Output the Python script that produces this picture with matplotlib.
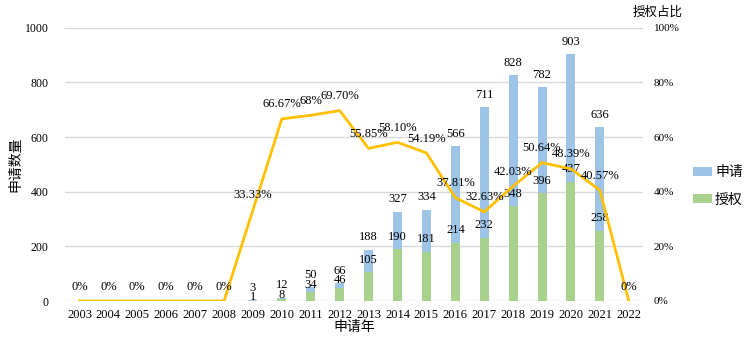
import numpy as np
import matplotlib.pyplot as plt

plt.rcParams['font.family'] = ['Liberation Serif', 'Noto Sans CJK SC']

years = [str(y) for y in range(2003, 2023)]
apply_cnt = [0, 0, 0, 0, 0, 0, 3, 12, 50, 66, 188, 327, 334, 566, 711, 828, 782, 903, 636, 0]
grant_cnt = [0, 0, 0, 0, 0, 0, 1, 8, 34, 46, 105, 190, 181, 214, 232, 348, 396, 437, 258, 0]
grant_pct = [0, 0, 0, 0, 0, 0, 33.33, 66.67, 68, 69.70, 55.85, 58.10, 54.19, 37.81,
             32.63, 42.03, 50.64, 48.39, 40.57, 0]
pct_labels = ['0%', '0%', '0%', '0%', '0%', '0%', '33.33%', '66.67%', '68%', '69.70%',
              '55.85%', '58.10%', '54.19%', '37.81%', '32.63%', '42.03%', '50.64%',
              '48.39%', '40.57%', '0%']

blue = '#9DC3E6'
green = '#A9D18E'
orange = '#FFC000'

fig = plt.figure(figsize=(7.49, 3.44), dpi=100)
ax = fig.add_axes([0.0868, 0.125, 0.772, 0.794])
x = np.arange(len(years))
w = 0.31

ax.bar(x, apply_cnt, w, color=blue, label='申请', zorder=2)
ax.bar(x, grant_cnt, w, color=green, label='授权', zorder=3)

# value labels; the green one is pushed down when the two bars are close
for i in range(len(years)):
    if apply_cnt[i] > 0:
        ya = apply_cnt[i] + 45
        yg = max(min(grant_cnt[i] + 45, ya - 35), 15)
        ax.text(x[i], ya, str(apply_cnt[i]), ha='center', va='center', fontsize=9, zorder=6)
        ax.text(x[i], yg, str(grant_cnt[i]), ha='center', va='center', fontsize=9, zorder=6)

ax.set_xlim(-0.5, len(years) - 0.5)
ax.set_ylim(0, 1000)
ax.set_yticks(range(0, 1001, 200))
ax.set_xticks(x)
ax.set_xticklabels(years)
ax.tick_params(axis='both', length=0, labelsize=8.5)
ax.tick_params(axis='y', pad=12)
ax.tick_params(axis='x', pad=6, labelsize=9)
ax.grid(axis='y', color='#D9D9D9', linewidth=1, zorder=0)
ax.set_axisbelow(True)
for s in ax.spines.values():
    s.set_visible(False)
ax.set_ylabel('申请数量', fontsize=10)
ax.yaxis.set_label_coords(-0.074, 0.5)
ax.set_xlabel('申请年', fontsize=10, labelpad=0)

ax2 = ax.twinx()
ax2.plot(x, grant_pct, color=orange, linewidth=2, zorder=5)
ax2.set_ylim(0, 100)
ax2.set_yticks(range(0, 101, 20))
ax2.set_yticklabels([f'{v}%' for v in range(0, 101, 20)])
ax2.tick_params(axis='y', length=0, labelsize=8, pad=7.5)
for s in ax2.spines.values():
    s.set_visible(False)
for i in range(len(years)):
    ax2.text(x[i], grant_pct[i] + 5.3, pct_labels[i], ha='center', va='center',
             fontsize=9, zorder=7)

fig.text(0.8785, 0.962, '授权占比', fontsize=9, ha='center', va='center')

handles, labels = ax.get_legend_handles_labels()
fig.legend(handles, labels, loc='center left', bbox_to_anchor=(0.925, 0.458),
           frameon=False, fontsize=10, handlelength=1.4, handleheight=0.55,
           labelspacing=1.0, handletextpad=0.2, borderaxespad=0, borderpad=0)

fig.savefig('out.png', dpi=100)
